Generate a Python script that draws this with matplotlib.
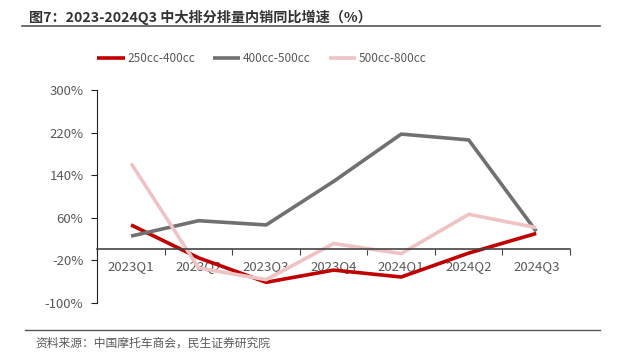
import matplotlib

matplotlib.use("Agg")
import matplotlib.pyplot as plt
from matplotlib.lines import Line2D
from matplotlib.ticker import FixedLocator, FuncFormatter

plt.rcParams["font.family"] = ["Noto Sans CJK SC", "DejaVu Sans"]

# --- data -----------------------------------------------------------------
quarters = ["2023Q1", "2023Q2", "2023Q3", "2023Q4", "2024Q1", "2024Q2", "2024Q3"]
cc_250_400 = [46, -16, -62, -39, -52, -7, 30]
cc_400_500 = [25, 54, 46, 128, 217, 206, 34]
cc_500_800 = [162, -35, -57, 11, -8, 66, 41]
series_names = ["250cc-400cc", "400cc-500cc", "500cc-800cc"]
y_ticks = [-100, -20, 60, 140, 220, 300]

colors = ["#C00000", "#707070", "#EDC3C3"]
TEXT_GRAY = "#595959"

fig = plt.figure(figsize=(6.25, 3.6), dpi=100)
fig.patch.set_facecolor("white")

# Title with underline rule.
fig.text(0.046, 0.953, "图7：2023-2024Q3 中大排分排量内销同比增速（%）",
         fontsize=10.2, weight="bold", color="#333333", va="center", ha="left")
fig.add_artist(Line2D([0.035, 0.96], [0.927, 0.927], color="#555555", lw=1.2))

ax = fig.add_axes([0.1557, 0.1597, 0.7563, 0.5903])
xs = [i + 0.5 for i in range(len(quarters))]
for vals, col, name in zip([cc_250_400, cc_400_500, cc_500_800], colors, series_names):
    ax.plot(xs, vals, color=col, lw=2.6, label=name, solid_capstyle="butt")

ax.set_xlim(0, len(quarters))
ax.set_ylim(-100, 300)

ax.yaxis.set_major_locator(FixedLocator(y_ticks))
ax.yaxis.set_major_formatter(FuncFormatter(lambda v, _: f"{v:.0f}%"))
ax.tick_params(axis="y", direction="out", length=4, color="#222222",
               labelsize=9.5, labelcolor=TEXT_GRAY, pad=6)

# Category axis sits on the zero line.
for s in ("top", "right"):
    ax.spines[s].set_visible(False)
ax.spines["left"].set_color("#222222")
ax.spines["bottom"].set_position(("data", 0))
ax.spines["bottom"].set_color("#444444")
ax.spines["bottom"].set_linewidth(1.2)
ax.set_xticks(range(len(quarters) + 1))
ax.set_xticklabels([])
ax.set_xticks(xs, minor=True)
ax.set_xticklabels(quarters, minor=True)
ax.tick_params(axis="x", which="major", direction="out", length=4, color="#444444")
ax.tick_params(axis="x", which="minor", length=0, labelsize=9.5,
               labelcolor=TEXT_GRAY, pad=8)

fig.legend(loc="center", bbox_to_anchor=(0.419, 0.838), ncol=3, frameon=False,
           fontsize=8.5, handlelength=2.3, handletextpad=0.25, columnspacing=1.5,
           labelcolor=TEXT_GRAY)

# Source note with rule above.
fig.add_artist(Line2D([0.04, 0.96], [0.083, 0.083], color="#555555", lw=1.0))
fig.text(0.056, 0.047, "资料来源：中国摩托车商会，民生证券研究院",
         fontsize=8.5, color=TEXT_GRAY, va="center", ha="left")

fig.savefig("out.png", dpi=100, facecolor="white")
plt.close(fig)
